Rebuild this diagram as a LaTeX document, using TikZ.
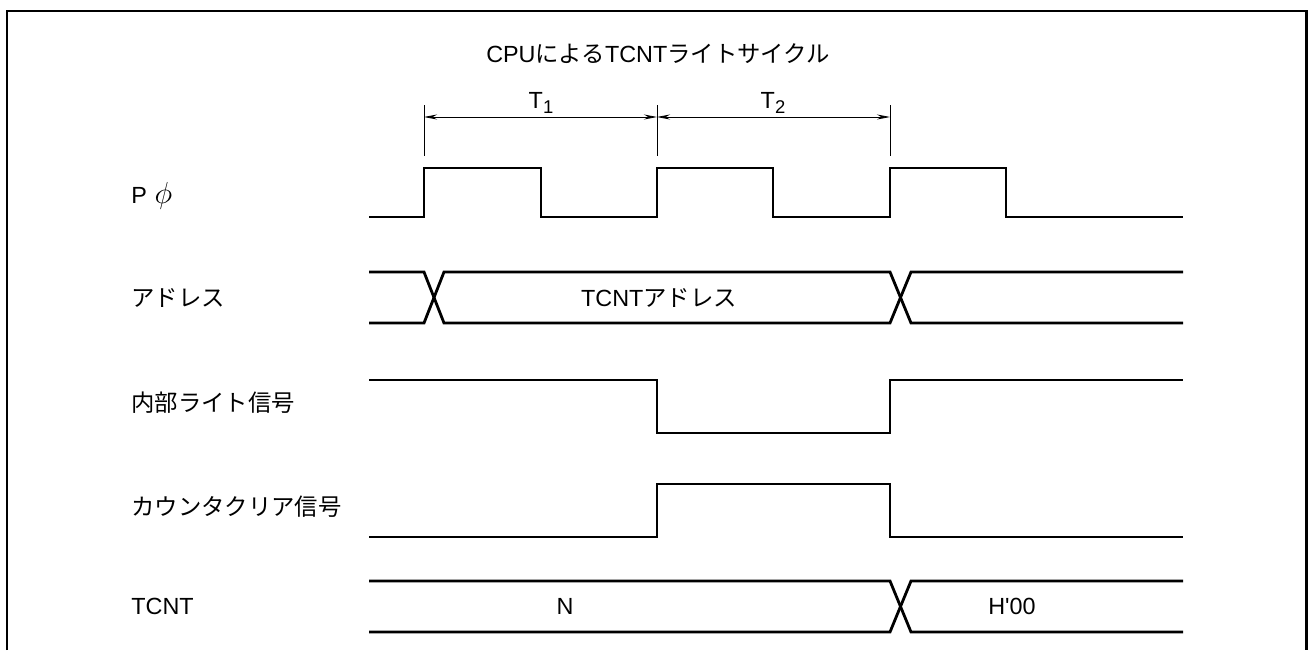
\documentclass[tikz,border=0pt]{standalone}
\usepackage{fontspec}
\setmainfont{Liberation Sans}
\newfontfamily\jpfont{Noto Sans CJK JP}
\usetikzlibrary{arrows.meta}
\newcommand{\sub}[1]{\raisebox{-0.45ex}{\fontsize{10.5}{12}\selectfont #1}}

\begin{document}
\begin{tikzpicture}[x=0.2mm, y=-0.2mm,
    signal/.style={line width=1.6pt, line join=miter},
    tick/.style={line width=0.45pt},
    dim/.style={line width=0.45pt, {Stealth[length=2.6mm,width=1mm]}-{Stealth[length=2.6mm,width=1mm]}},
    lbl/.style={anchor=base west, inner sep=0pt, font=\fontsize{13.3}{15}\selectfont},
    txt/.style={anchor=base, inner sep=0pt, font=\fontsize{13.3}{15}\selectfont}]
    \useasboundingbox (0,0) rectangle (1308,650);

    % Marco
    \draw[line width=1.7pt] (7,650) -- (7,11) -- (1306.5,11) -- (1306.5,650);

    % Titulo del ciclo
    \node[txt] (titulo) at (658,62) {CPU{\jpfont による}TCNT{\jpfont ライトサイクル}};

    % Periodos T1 y T2
    \coordinate (t0) at (424,117);
    \coordinate (t1) at (657,117);
    \coordinate (t2) at (890,117);
    \foreach \x in {424,657,890}
        \draw[tick] (\x,105) -- (\x,156);
    \draw[dim] (t0) -- (t1);
    \draw[dim] (t1) -- (t2);
    \node[txt] (T1) at (541,108) {T\sub{1}};
    \node[txt] (T2) at (773,108) {T\sub{2}};

    % Reloj P phi
    \node[lbl] (lphi) at (131,203) {P\,\,{\fontsize{17}{18}\selectfont$\phi$}};
    \draw[signal] (369,217) -- (424,217) -- (424,168) -- (541,168) -- (541,217)
        -- (657,217) -- (657,168) -- (773,168) -- (773,217) -- (890,217)
        -- (890,168) -- (1006,168) -- (1006,217) -- (1183,217);

    % Bus de direcciones
    \node[lbl] (ladr) at (131,306) {\jpfont アドレス};
    \draw[signal] (369,272) -- (424,272) -- (444,323) -- (890,323) -- (911,272) -- (1183,272);
    \draw[signal] (369,323) -- (424,323) -- (444,272) -- (890,272) -- (911,323) -- (1183,323);
    \node[txt] (vadr) at (659,306) {TCNT{\jpfont アドレス}};

    % Senal de escritura interna
    \node[lbl] (lwr) at (131,411) {\jpfont 内部ライト信号};
    \draw[signal] (369,380) -- (657,380) -- (657,433) -- (890,433) -- (890,380) -- (1183,380);

    % Senal de borrado del contador
    \node[lbl] (lclr) at (131,515) {\jpfont カウンタクリア信号};
    \draw[signal] (369,537) -- (657,537) -- (657,484) -- (890,484) -- (890,537) -- (1183,537);

    % Contador TCNT
    \node[lbl] (ltcnt) at (131,614) {TCNT};
    \draw[signal] (369,581) -- (890,581) -- (911,632) -- (1183,632);
    \draw[signal] (369,632) -- (890,632) -- (911,581) -- (1183,581);
    \node[txt] (vn) at (565,614) {N};
    \node[txt] (vh) at (1012,614) {H\textquotesingle 00};
\end{tikzpicture}
\end{document}
